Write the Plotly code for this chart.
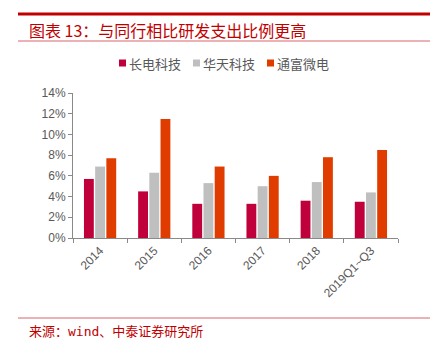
import plotly.graph_objects as go

categories = ["2014", "2015", "2016", "2017", "2018", "2019Q1~Q3"]
series_names = ["长电科技", "华天科技", "通富微电"]
changdian = [5.7, 4.5, 3.3, 3.3, 3.6, 3.5]
huatian = [6.9, 6.3, 5.3, 5.0, 5.4, 4.4]
tongfu = [7.7, 11.5, 6.9, 6.0, 7.8, 8.5]
colors = ["#C0003A", "#BFBFBF", "#E03C00"]
y_ticks = [0, 2, 4, 6, 8, 10, 12, 14]

fig = go.Figure()
for name, vals, c in zip(series_names, [changdian, huatian, tongfu], colors):
    fig.add_trace(go.Bar(x=categories, y=vals, name=name, marker=dict(color=c, line=dict(width=0))))

W, H = 439, 352
ML, MR, MT, MB = 73, 41, 93, 114
fig.update_layout(
    width=W, height=H,
    margin=dict(l=ML, r=MR, t=MT, b=MB),
    paper_bgcolor="white", plot_bgcolor="white",
    barmode="group", bargap=0.38, bargroupgap=0.12,
    font=dict(family="Liberation Sans, Arial, Noto Sans CJK SC", size=12, color="#595959"),
    showlegend=False,
)

fig.update_xaxes(
    showline=True, linecolor="#898989", linewidth=1,
    ticks="outside", tickson="boundaries", ticklen=4, tickcolor="#898989",
    tickangle=-45, tickfont=dict(size=12, color="#595959"), showgrid=False,
)
fig.update_yaxes(
    range=[0, 14], tickvals=y_ticks, ticktext=[f"{v}%" for v in y_ticks],
    showline=True, linecolor="#898989", linewidth=1,
    ticks="outside", ticklen=4, tickcolor="#898989", showgrid=False, zeroline=False,
    tickfont=dict(size=12, color="#595959"),
)

pl, pt, pw, ph = ML, MT, W - ML - MR, H - MT - MB

def fx(x):
    return (x - pl) / pw

def fy(y):
    return 1 - (y - pt) / ph

shapes = [
    dict(type="line", xref="paper", yref="paper", x0=fx(18), x1=fx(430), y0=fy(14), y1=fy(14),
         line=dict(color="#C00000", width=3)),
    dict(type="line", xref="paper", yref="paper", x0=fx(18), x1=fx(430), y0=fy(41), y1=fy(41),
         line=dict(color="#D9646A", width=1)),
    dict(type="line", xref="paper", yref="paper", x0=fx(18), x1=fx(430), y0=fy(318), y1=fy(318),
         line=dict(color="#D9646A", width=1)),
]
annotations = [
    dict(text="图表 13：与同行相比研发支出比例更高", xref="paper", yref="paper", x=fx(27), y=fy(30),
         xanchor="left", yanchor="middle", showarrow=False,
         font=dict(size=16, color="#C00000", family="Noto Sans CJK SC")),
    dict(text="来源：wind、中泰证券研究所", xref="paper", yref="paper", x=fx(27), y=fy(331),
         xanchor="left", yanchor="middle", showarrow=False,
         font=dict(size=13, color="#C00000", family="DejaVu Sans Mono, Noto Sans CJK SC")),
]
# manual legend
leg_x = [119, 193, 267]
leg_y = 63
for name, c, lx in zip(series_names, colors, leg_x):
    shapes.append(dict(type="rect", xref="paper", yref="paper", x0=fx(lx), x1=fx(lx + 7),
                       y0=fy(leg_y + 3.5), y1=fy(leg_y - 3.5), fillcolor=c, line=dict(width=0)))
    annotations.append(dict(text=name, xref="paper", yref="paper", x=fx(lx + 8), y=fy(leg_y),
                            xanchor="left", yanchor="middle", showarrow=False,
                            font=dict(size=13, color="#595959", family="Noto Sans CJK SC")))

fig.update_layout(shapes=shapes, annotations=annotations)
fig.write_html("out.html")
